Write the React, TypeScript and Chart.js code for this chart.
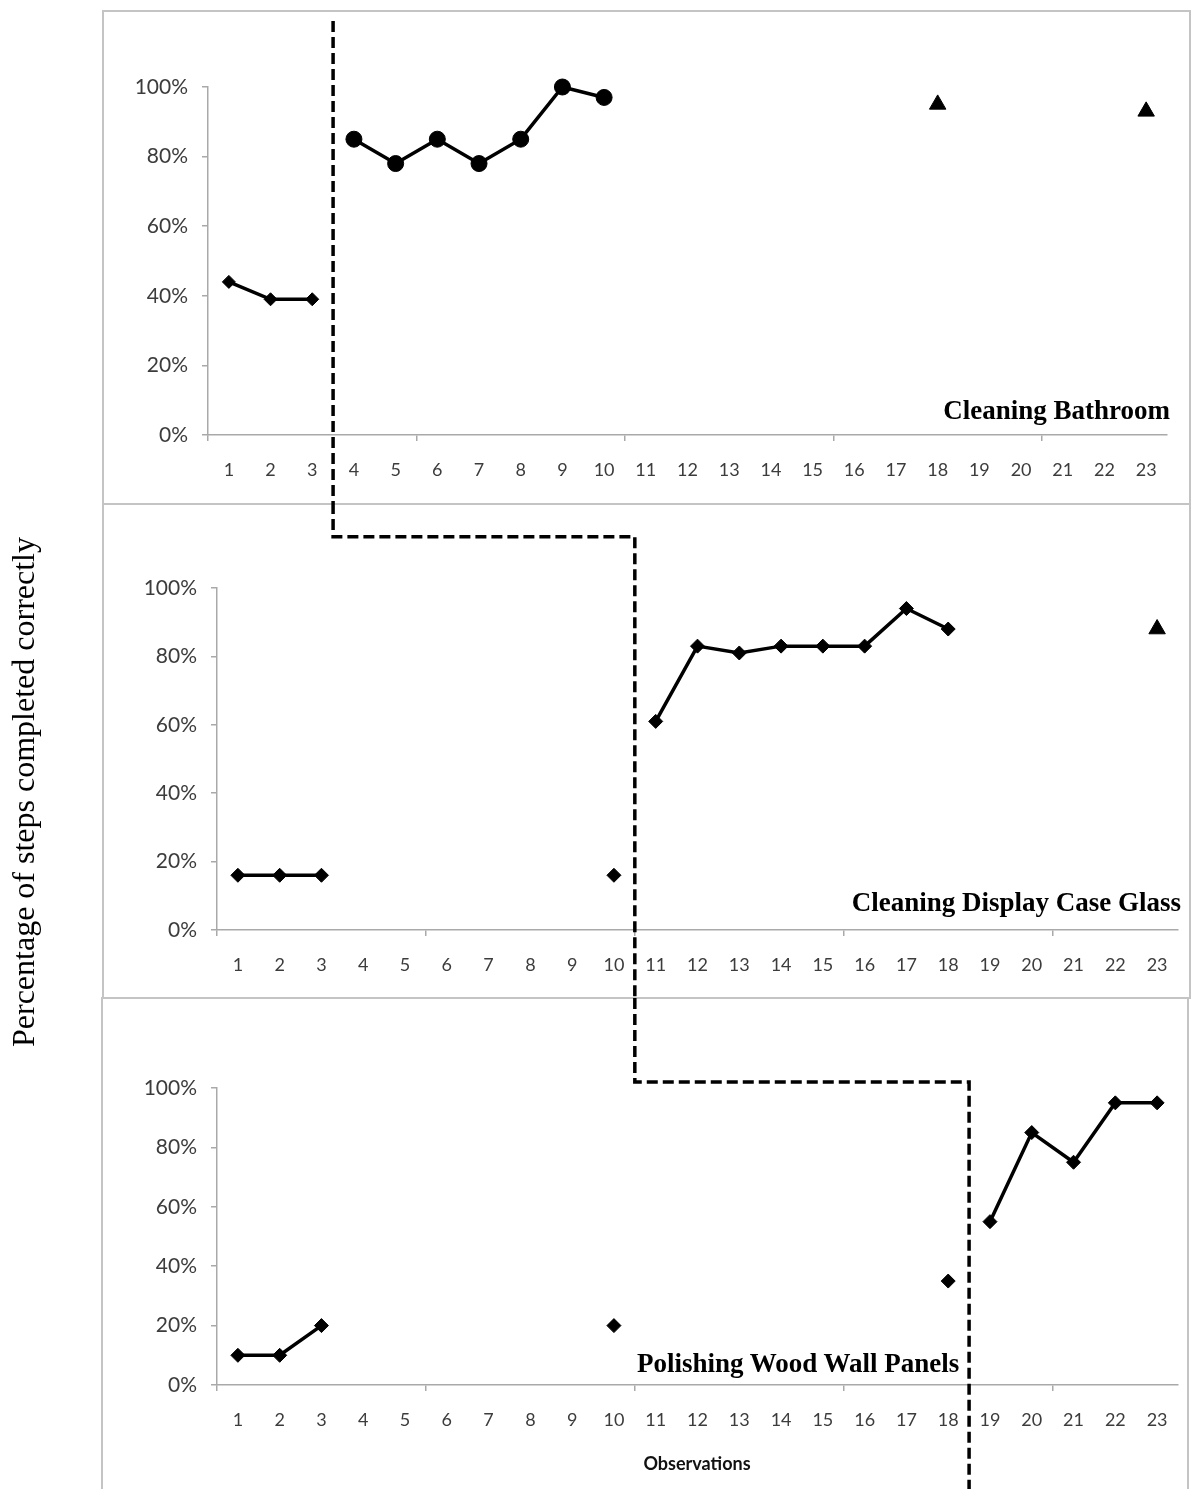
import React, { useEffect, useRef } from 'react';
import { Chart, registerables } from 'chart.js';

Chart.register(...registerables);

// ---- data ----
const observations = ['1', '2', '3', '4', '5', '6', '7', '8', '9', '10', '11', '12', '13', '14', '15', '16', '17', '18', '19', '20', '21', '22', '23'];
const yTickValues = [0, 20, 40, 60, 80, 100];

const bathBaseline = [44, 39, 39, null, null, null, null, null, null, null, null, null, null, null, null, null, null, null, null, null, null, null, null];
const bathIntervention = [null, null, null, 85, 78, 85, 78, 85, 100, 97, null, null, null, null, null, null, null, null, null, null, null, null, null];
const bathFollowUp = [null, null, null, null, null, null, null, null, null, null, null, null, null, null, null, null, null, 95, null, null, null, null, 93];

const glassBaseline = [16, 16, 16, null, null, null, null, null, null, 16, null, null, null, null, null, null, null, null, null, null, null, null, null];
const glassIntervention = [null, null, null, null, null, null, null, null, null, null, 61, 83, 81, 83, 83, 83, 94, 88, null, null, null, null, null];
const glassFollowUp = [null, null, null, null, null, null, null, null, null, null, null, null, null, null, null, null, null, null, null, null, null, null, 88];

const woodBaseline = [10, 10, 20, null, null, null, null, null, null, 20, null, null, null, null, null, null, null, 35, null, null, null, null, null];
const woodIntervention = [null, null, null, null, null, null, null, null, null, null, null, null, null, null, null, null, null, null, 55, 85, 75, 95, 95];

// phase change: last baseline observation of each panel, and level (in %) of the step
const phaseLastBaseline = [3, 10, 18];
const phaseStepLevel = [119, 115, 102];

const panelTitles = ['Cleaning Bathroom', 'Cleaning Display Case Glass', 'Polishing Wood Wall Panels'];

// ---- layout ----
const W = 1191;
const PANELS = [
  { top: 0, height: 503, pad: { left: 108, right: 24, top: 87, bottom: 18 } },
  { top: 503, height: 495, pad: { left: 117, right: 13, top: 85, bottom: 18 } },
  { top: 998, height: 491, pad: { left: 117, right: 13, top: 90, bottom: 54 } },
];

const AXIS = '#a9a9a9';
const TICK_TEXT = '#3c3c3c';

function lineDs(data: (number | null)[], style: string, radius: number, showLine = true) {
  return {
    data,
    showLine,
    clip: false,
    borderColor: '#000',
    backgroundColor: '#000',
    borderWidth: 3.5,
    pointStyle: style,
    pointRadius: radius,
    pointHoverRadius: radius,
    pointBorderWidth: 1,
    pointBackgroundColor: '#000',
    pointBorderColor: '#000',
    tension: 0,
    spanGaps: false,
  };
}

const panelDatasets = [
  [lineDs(bathBaseline, 'rectRot', 6.5), lineDs(bathIntervention, 'circle', 8), lineDs(bathFollowUp, 'triangle', 9.5, false)],
  [lineDs(glassBaseline, 'rectRot', 7), lineDs(glassIntervention, 'rectRot', 7), lineDs(glassFollowUp, 'triangle', 9.5, false)],
  [lineDs(woodBaseline, 'rectRot', 7), lineDs(woodIntervention, 'rectRot', 7)],
];

function midX(c: any, obs: number) {
  const s = c.scales.x;
  return (s.getPixelForValue(obs - 1) + s.getPixelForValue(obs)) / 2;
}

function phasePlugin(idx: number, made: any[]) {
  return {
    id: 'phaseLine' + idx,
    afterDraw(chart: any) {
      const ctx = chart.ctx;
      const h = chart.height;
      const y = chart.scales.y;
      ctx.save();
      ctx.strokeStyle = '#000';
      ctx.lineWidth = 3.5;
      ctx.setLineDash([11, 5]);
      ctx.lineCap = 'butt';
      ctx.beginPath();
      const xOwn = midX(chart, phaseLastBaseline[idx]);
      if (idx === 0) {
        ctx.moveTo(xOwn, y.getPixelForValue(phaseStepLevel[0]));
        ctx.lineTo(xOwn, h);
      } else {
        const prev = made[idx - 1];
        const xPrev = midX(prev, phaseLastBaseline[idx - 1]);
        const lvl = y.getPixelForValue(phaseStepLevel[idx]);
        ctx.moveTo(xPrev, 0);
        ctx.lineTo(xPrev, lvl);
        ctx.lineTo(xOwn, lvl);
        ctx.lineTo(xOwn, h);
      }
      ctx.stroke();
      ctx.restore();
    },
  };
}

function makeConfig(idx: number, made: any[]): any {
  const p = PANELS[idx];
  return {
    type: 'line',
    data: { labels: observations, datasets: panelDatasets[idx] },
    plugins: [phasePlugin(idx, made)],
    options: {
      animation: false,
      responsive: false,
      maintainAspectRatio: false,
      devicePixelRatio: 1,
      layout: { padding: p.pad },
      plugins: { legend: { display: false }, tooltip: { enabled: false }, title: { display: false } },
      scales: {
        x: {
          type: 'category',
          offset: true,
          afterFit: (s: any) => { s.height = 50; },
          grid: {
            display: true,
            drawOnChartArea: false,
            drawTicks: true,
            tickLength: 6,
            offset: true,
            lineWidth: 1.5,
            color: (ctx: any) => (ctx.index !== undefined && ctx.index % 5 === 0 ? AXIS : 'rgba(0,0,0,0)'),
          },
          border: { display: true, color: AXIS, width: 1.5 },
          ticks: {
            autoSkip: false,
            maxRotation: 0,
            padding: 18,
            color: TICK_TEXT,
            font: { family: 'Lato', size: 18 },
          },
        },
        y: {
          min: 0,
          max: 100,
          afterFit: (s: any) => { s.width = 100; },
          afterBuildTicks: (s: any) => { s.ticks = yTickValues.map((v) => ({ value: v })); },
          grid: { display: true, drawOnChartArea: false, drawTicks: true, tickLength: 6, color: AXIS, lineWidth: 1.5 },
          border: { display: true, color: AXIS, width: 1.5 },
          ticks: {
            padding: 14,
            color: TICK_TEXT,
            font: { family: 'Lato', size: 21 },
            callback: (v: any) => v + '%',
          },
        },
      },
    },
  };
}

export default function App() {
  const r1 = useRef<HTMLCanvasElement>(null);
  const r2 = useRef<HTMLCanvasElement>(null);
  const r3 = useRef<HTMLCanvasElement>(null);

  useEffect(() => {
    const canvases = [r1.current, r2.current, r3.current];
    const made: any[] = [];
    canvases.forEach((cv, i) => {
      if (cv) made.push(new Chart(cv, makeConfig(i, made)));
    });
    return () => made.forEach((c) => c.destroy());
  }, []);

  const boxStyle = (left: number, top: number, width: number, height: number): React.CSSProperties => ({
    position: 'absolute', left, top, width, height, border: '2px solid #c4c4c4', boxSizing: 'border-box',
  });
  const titleStyle: React.CSSProperties = {
    position: 'absolute', fontFamily: '"Liberation Serif", "Times New Roman", serif', fontWeight: 'bold', fontSize: 27, lineHeight: '28px', color: '#000', whiteSpace: 'nowrap',
  };
  const refs = [r1, r2, r3];

  return (
    <div style={{ position: 'absolute', left: 0, top: 0, width: W, height: 1489, overflow: 'hidden', background: '#fff' }}>
      <div style={boxStyle(102, 10, 1089, 495)} />
      <div style={boxStyle(102, 503, 1089, 496)} />
      <div style={boxStyle(101, 997, 1088, 520)} />
      {PANELS.map((p, i) => (
        <canvas key={i} ref={refs[i]} width={W} height={p.height}
          style={{ position: 'absolute', left: 0, top: p.top, width: W, height: p.height }} />
      ))}
      <div style={{ ...titleStyle, right: W - 1170, top: 396 }}>{panelTitles[0]}</div>
      <div style={{ ...titleStyle, right: W - 1181, top: 888 }}>{panelTitles[1]}</div>
      <div style={{ ...titleStyle, left: 637, top: 1349 }}>{panelTitles[2]}</div>
      <div style={{ position: 'absolute', left: 597, width: 200, top: 1452, textAlign: 'center', fontFamily: 'Lato', fontWeight: 'bold', fontSize: 18, lineHeight: '22px', color: '#111' }}>Observations</div>
      <div style={{
        position: 'absolute', left: 23 - 300, top: 792 - 20, width: 600, height: 40, lineHeight: '40px', textAlign: 'center',
        transform: 'rotate(-90deg)', fontFamily: '"Liberation Serif", "Times New Roman", serif', fontSize: 32, color: '#000', whiteSpace: 'nowrap',
      }}>Percentage of steps completed correctly</div>
    </div>
  );
}
